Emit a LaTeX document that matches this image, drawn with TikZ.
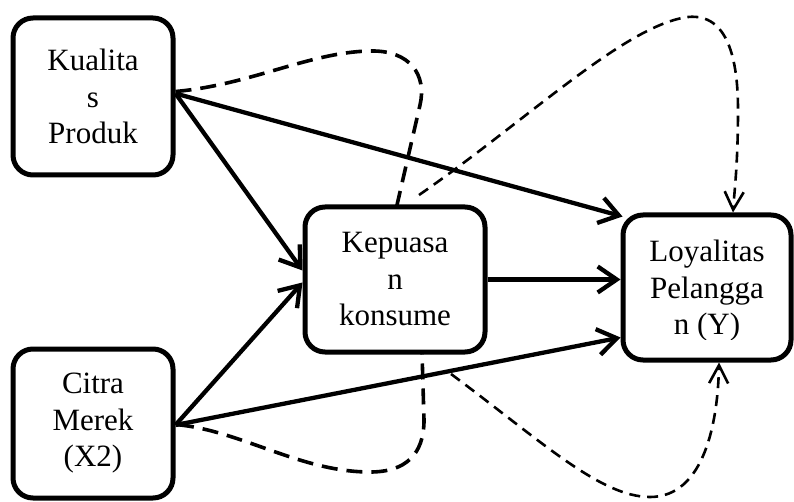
\documentclass[tikz,border=0pt]{standalone}
\usepackage{fontspec}
\setmainfont{Liberation Serif}
\usetikzlibrary{arrows.meta}
\pgfdeclarelayer{background}
\pgfsetlayers{background,main}
\begin{document}
\begin{tikzpicture}[x=1pt,y=-1pt,
 box/.style={draw, line width=5pt, rounded corners=20pt, fill=white, align=center, inner sep=0pt, font=\fontsize{31}{36.5}\selectfont},
 lbl/.style={align=center, inner sep=0pt, font=\fontsize{31}{36.5}\selectfont},
 solidarrow/.style={line width=4.3pt, -{Straight Barb[length=19pt,width=26pt]}},
 thickdash/.style={line width=3.6pt, dash pattern=on 16pt off 9pt},
 thindash/.style={line width=2.6pt, dash pattern=on 11pt off 7pt, -{Straight Barb[length=18pt,width=19pt]}}
]
\useasboundingbox (0,0) rectangle (794,502);

\node[box, minimum width=160pt, minimum height=157pt] (k) at (93,96.5) {Kualita\\s\\Produk};
\node[box, minimum width=160pt, minimum height=149pt] (c) at (93,423.5) {Citra\\Merek\\(X2)};
\node[box, minimum width=180pt, minimum height=145pt] (m) at (395,279.5) {Kepuasa\\n\\konsume};
\node[box, minimum width=168pt, minimum height=145pt] (l) at (707,287.5) {};
\begin{scope}
\clip (600,200) rectangle (794,339.5);
\node[lbl] (lt) at (707,291) {Loyalitas\\Pelangga\\n (Y)};
\end{scope}

\coordinate (bs) at (419,195);
\coordinate (cs) at (451,374);

\draw[solidarrow] ([yshift=3pt]k.east) -- ([xshift=2pt,yshift=-4pt]l.north west);
\draw[solidarrow] ([yshift=3pt]k.east) -- ([yshift=9pt]m.west);
\draw[solidarrow] ([yshift=-1.5pt]c.east) -- ([yshift=-3pt]m.west);
\draw[solidarrow] ([yshift=-1.5pt]c.east) -- ([yshift=-50pt]l.west);
\draw[solidarrow] (m.east) -- (m.east -| l.west);

\begin{pgfonlayer}{background}
\fill[white] (0,0) rectangle (794,502);
\draw[thickdash] ([yshift=5pt]k.east) .. controls (250,85) and (310,52) .. (370,51) .. controls (410,50) and (427,75) .. (420,105) -- (397,205) -- (422,352) -- (424,420) .. controls (424,455) and (405,472) .. (370,472) .. controls (300,472) and (240,430) .. ([yshift=-1pt]c.east);
\draw[thindash] (bs) .. controls (525,122) and (625,25) .. (688,17) .. controls (728,13) and (738,60) .. (738,110) .. controls (738,165) and (734,195) .. ([xshift=26pt]l.north);
\draw[thindash] (cs) .. controls (540,440) and (600,497) .. (650,497) .. controls (705,497) and (718,420) .. ([xshift=12pt]l.south);
\end{pgfonlayer}
\end{tikzpicture}
\end{document}
